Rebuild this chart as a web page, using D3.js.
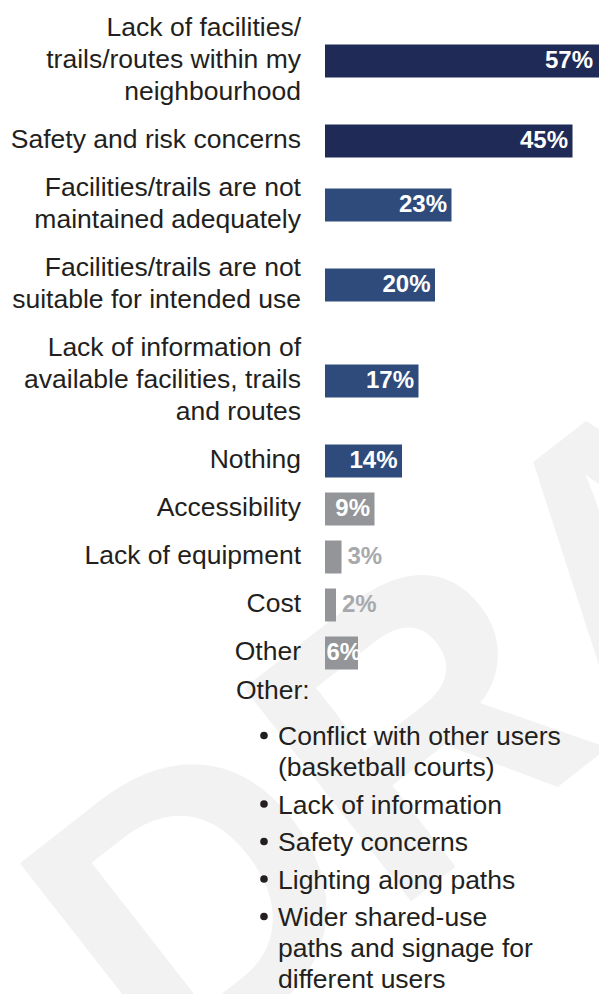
<!DOCTYPE html>
<html><head><meta charset="utf-8">
<script src="https://cdn.jsdelivr.net/npm/d3@7"></script>
<style>
html,body{margin:0;padding:0;background:#fff;overflow:hidden;}
svg{display:block;font-family:"Liberation Sans", Arial, Helvetica, sans-serif;}
</style></head><body>
<script>
// ---- data ----
const categories = [
  "Lack of facilities/\ntrails/routes within my\nneighbourhood",
  "Safety and risk concerns",
  "Facilities/trails are not\nmaintained adequately",
  "Facilities/trails are not\nsuitable for intended use",
  "Lack of information of\navailable facilities, trails\nand routes",
  "Nothing",
  "Accessibility",
  "Lack of equipment",
  "Cost",
  "Other"
];
const values = [57, 45, 23, 20, 17, 14, 9, 3, 2, 6];
const tiers = ["top", "top", "middle", "middle", "middle", "middle", "low", "low", "low", "low"];
const otherTitle = "Other:";
const otherResponses = [
  "Conflict with other users\n(basketball courts)",
  "Lack of information",
  "Safety concerns",
  "Lighting along paths",
  "Wider shared-use\npaths and signage for\ndifferent users"
];
const watermark = "DRAFT";

// ---- styles ----
const W = 599, H = 994;
const tierColor = { top: "#1f2a56", middle: "#2e4b7b", low: "#939598" };
const textColor = "#231f20";
const outsideLabelColor = "#a7a9ac";
const fontSize = 26.5, lineH = 32, capHalf = 9.4;

const svg = d3.select("body").append("svg").attr("width", W).attr("height", H);

// watermark
svg.append("text")
  .text(watermark)
  .attr("transform", "translate(166,1093) rotate(-38)")
  .attr("font-size", 394)
  .attr("font-weight", "bold")
  .attr("fill", "#f2f2f2");

// ---- layout: vertical position in "line units" ----
const rows = categories.map(c => c.split("\n"));
let acc = 0;
const centersU = rows.map(lines => {
  const c = acc + lines.length / 2;
  acc += lines.length + 0.5;
  return c;
});
const y = d3.scaleLinear().domain([0, 1]).range([13, 13 + lineH]);
const x = d3.scaleLinear().domain([0, 100]).range([325, 875]);
const plotRight = W;
const barH = 33;

const g = svg.append("g");

// bars
g.selectAll("rect.bar").data(values).join("rect")
  .attr("class", "bar")
  .attr("x", x(0))
  .attr("y", (d, i) => y(centersU[i]) - barH / 2)
  .attr("width", d => Math.min(x(d), plotRight) - x(0))
  .attr("height", barH)
  .attr("fill", (d, i) => tierColor[tiers[i]]);

// category labels
rows.forEach((lines, i) => {
  const c = y(centersU[i]) - 2;
  const t = g.append("text")
    .attr("text-anchor", "end")
    .attr("font-size", fontSize)
    .attr("fill", textColor);
  lines.forEach((ln, k) => {
    t.append("tspan")
      .attr("x", 301)
      .attr("y", c + capHalf + (k - (lines.length - 1) / 2) * lineH)
      .text(ln);
  });
});

// value labels
values.forEach((v, i) => {
  const c = y(centersU[i]);
  const end = Math.min(x(v), plotRight);
  const inside = v >= 5;
  const t = g.append("text")
    .attr("font-size", 24)
    .attr("font-weight", "bold")
    .attr("y", c + 6.5)
    .attr("text-anchor", "start")
    .text(v + "%");
  if (inside) {
    t.attr("fill", "#ffffff");
    const w = t.node().getComputedTextLength();
    const pad = end >= plotRight ? 6 : 4.5;
    t.attr("x", Math.max(end - pad - w, x(0) + 1.5));
  } else {
    t.attr("fill", outsideLabelColor).attr("x", end + 6);
  }
});

// notes: Other responses
const lastC = y(centersU[centersU.length - 1]);
const titleBase = lastC + 46;
g.append("text")
  .attr("x", 236).attr("y", titleBase)
  .attr("font-size", fontSize).attr("fill", textColor)
  .text(otherTitle);

let base = titleBase + 46;
otherResponses.forEach(item => {
  const lines = item.split("\n");
  g.append("circle")
    .attr("cx", 264).attr("cy", base - 9.5).attr("r", 3.8)
    .attr("fill", textColor);
  const t = g.append("text").attr("font-size", fontSize).attr("fill", textColor);
  lines.forEach((ln, k) => {
    t.append("tspan").attr("x", 278).attr("y", base + k * 31).text(ln);
  });
  base += (lines.length - 1) * 31 + 37.5;
});
</script>
</body></html>
